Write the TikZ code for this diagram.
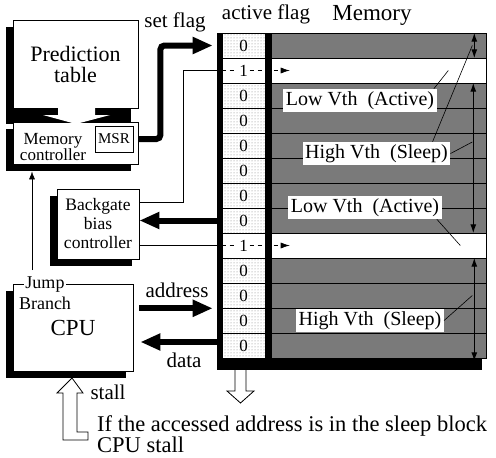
\documentclass[tikz,border=0pt]{standalone}
\usepackage{fontspec}
\setmainfont{Liberation Serif}
\usetikzlibrary{arrows.meta,positioning,patterns,shadows}
\newcommand{\setfs}[2]{\fontsize{#1}{#2}\selectfont}

\begin{document}
\begin{tikzpicture}[x=1pt,y=-1pt,node distance=25pt,
    box/.style={draw,fill=white,line width=0.8pt,inner sep=0pt},
    shadowed/.style={drop shadow={shadow xshift=-7pt,shadow yshift=-7pt,fill=black,opacity=1}},
    flag/.style={draw,line width=0.6pt,minimum width=43pt,minimum height=25pt,inner sep=0pt,
                 preaction={fill=white},pattern=dots,pattern color=black!50,font=\setfs{17}{17}},
    flagon/.style={draw,fill=white,line width=0.6pt,minimum width=43pt,minimum height=25pt,
                 inner sep=0pt,font=\setfs{17}{17}},
    memrow/.style={draw,line width=0.6pt,fill=black!52,minimum width=215pt,minimum height=25pt,inner sep=0pt},
    memon/.style={memrow,fill=white},
    fat/.style={line width=6pt,-{Triangle[length=20pt,width=16pt]}},
    thinline/.style={line width=0.6pt},
    flagdash/.style={line width=0.6pt,dash pattern=on 4pt off 4pt},
    vth/.style={fill=white,inner sep=2.5pt,font=\setfs{20}{20}},
    leader/.style={line width=0.6pt},
    dbl/.style={line width=1.2pt,{Latex[length=9pt,width=6pt]}-{Latex[length=9pt,width=6pt]}},
    hollow/.style={fill=white,line width=0.8pt},
    lbl/.style={font=\setfs{21}{21}}]
  \useasboundingbox (0,0) rectangle (496,458);

  % flag column and memory
  \fill (217,33) rectangle (482,370);
  \node[flag]   (f0)  at (243.5,45.5) {0};
  \node[flagon] (f1)  [below of=f0]  {1};
  \node[flag]   (f2)  [below of=f1]  {0};
  \node[flag]   (f3)  [below of=f2]  {0};
  \node[flag]   (f4)  [below of=f3]  {0};
  \node[flag]   (f5)  [below of=f4]  {0};
  \node[flag]   (f6)  [below of=f5]  {0};
  \node[flag]   (f7)  [below of=f6]  {0};
  \node[flagon] (f8)  [below of=f7]  {1};
  \node[flag]   (f9)  [below of=f8]  {0};
  \node[flag]   (f10) [below of=f9]  {0};
  \node[flag]   (f11) [below of=f10] {0};
  \node[flag]   (f12) [below of=f11] {0};

  \node[memrow] (m0)  at (378.5,45.5) {};
  \node[memon]  (m1)  [below of=m0]  {};
  \node[memrow] (m2)  [below of=m1]  {};
  \node[memrow] (m3)  [below of=m2]  {};
  \node[memrow] (m4)  [below of=m3]  {};
  \node[memrow] (m5)  [below of=m4]  {};
  \node[memrow] (m6)  [below of=m5]  {};
  \node[memrow] (m7)  [below of=m6]  {};
  \node[memon]  (m8)  [below of=m7]  {};
  \node[memrow] (m9)  [below of=m8]  {};
  \node[memrow] (m10) [below of=m9]  {};
  \node[memrow] (m11) [below of=m10] {};
  \node[memrow] (m12) [below of=m11] {};

  \node[lbl] (actflag) at (266,14) {active flag};
  \node[font=\setfs{23}{23}] (memtitle) at (372,15) {Memory};

  % memory labels
  \node[vth] (lva) at (360,100.5) {Low Vth\ \ (Active)};
  \node[vth] (hva) at (376.5,153.5) {High Vth\ \ (Sleep)};
  \node[vth] (lvb) at (365,207.5) {Low Vth\ \ (Active)};
  \node[vth] (hvb) at (370,320.5) {High Vth\ \ (Sleep)};

  \draw[dbl] ([xshift=-12pt]m0.north east) -- ([xshift=-12pt]m0.south east);
  \draw[dbl] ([xshift=-13pt]m2.north east) -- ([xshift=-13pt]m7.south east);
  \draw[dbl] ([xshift=-12pt]m9.north east) -- ([xshift=-12pt,yshift=-3pt]m12.south east);

  \draw[leader] ([xshift=-3pt]lva.north east) -- ([xshift=-38pt]m1.east);
  \draw[leader] ([xshift=-18pt]hva.north east) -- ([xshift=-14pt]m0.east);
  \draw[leader] (hva.east) -- ([xshift=-14pt,yshift=3.5pt]m4.east);
  \draw[leader] ([xshift=-5pt]lvb.south east) -- ([xshift=-26pt]m8.east);
  \draw[leader] (hvb.east) -- ([xshift=-14pt]m10.east);

  % controllers
  \node[box,shadowed,minimum width=125pt,minimum height=88pt,align=center,
        font=\setfs{22}{21}] (pred) at (75.5,64) {Prediction\\table};
  \fill ([xshift=-7pt]pred.south west) rectangle ([xshift=-7pt,yshift=-16pt]pred.south east);
  \node[box,shadowed,minimum width=125pt,minimum height=42pt] (memctl) at (75.5,143) {};
  \node[align=center,font=\setfs{17}{15}] (memtxt) at (53,147) {Memory\\controller};
  \node[draw,line width=0.8pt,minimum width=38pt,minimum height=26pt,inner sep=0pt,
        font=\setfs{15}{15}] (msr) at (114,139) {MSR};
  \fill[white] (58,106) -- (58,115) -- (43,115) -- (76,124) -- (110,115) -- (95,115) -- (95,106) -- cycle;

  \node[box,shadowed,minimum width=82pt,minimum height=70pt,align=center,
        font=\setfs{17.5}{19}] (bgc) at (98,224) {Backgate\\bias\\controller};

  \node[box,shadowed,minimum width=120pt,minimum height=87pt,
        font=\setfs{23}{23}] (cpu) at (73,327.5) {CPU};
  \node[fill=white,inner sep=1.5pt,font=\setfs{18}{18}] (jump) at (45,285) {Jump};
  \node[font=\setfs{18}{18}] (branch) at (45,303) {Branch};

  % signals
  \coordinate (jb) at (32,270);
  \draw[thinline,-{Latex[length=8pt,width=6pt]}] (jb) -- ([yshift=-7pt]memctl.south -| jb);

  \draw[fat,rounded corners=4pt,shorten >=9pt] (msr.east -| memctl.east) -- ++(22,0) |- (f0.west);
  \node[lbl] (setflag) at (175,22) {set flag};

  \coordinate (bend) at (183,202);
  \draw[thinline] (bend -| bgc.east) -- (bend) |- (f1.west);
  \draw[thinline] (f8.west -| bgc.east) -- (f8.west);
  \draw[flagdash] (f1.west) -- ([xshift=-6pt]f1.center);
  \draw[flagdash,-{Latex[length=9pt,width=6pt]}] ([xshift=6pt]f1.center) -- ([xshift=19pt]m1.west);
  \draw[flagdash] (f8.west) -- ([xshift=-6pt]f8.center);
  \draw[flagdash,-{Latex[length=9pt,width=6pt]}] ([xshift=6pt]f8.center) -- ([xshift=19pt]m8.west);

  \draw[fat] (f7.west) -- (f7.west -| bgc.east);

  \draw[fat,shorten <=6pt,shorten >=9pt] (cpu.east |- f10.south) -- (f10.south west);
  \node[lbl] (addr) at (177,290) {address};
  \coordinate (dat) at (217,342);
  \draw[fat,shorten >=7pt] (dat) -- (dat -| cpu.east);
  \node[lbl] (data) at (184,360) {data};

  % hollow arrows
  \filldraw[hollow] (235,370) -- (235,391) -- (227,391) -- (240.5,403) -- (254,391) -- (246,391) -- (246,370);
  \filldraw[hollow] (72,378) -- (83,393) -- (77,393) -- (77,432) -- (88,432) -- (88,440)
                    -- (63,440) -- (63,393) -- (57,393) -- cycle;
  \node[lbl] (stall) at (108,392) {stall};
  \node[anchor=west,align=left,inner sep=0pt,font=\setfs{22.5}{21.5}] (note) at (97,434)
       {If the accessed address is in the sleep block\\CPU stall};
\end{tikzpicture}
\end{document}
